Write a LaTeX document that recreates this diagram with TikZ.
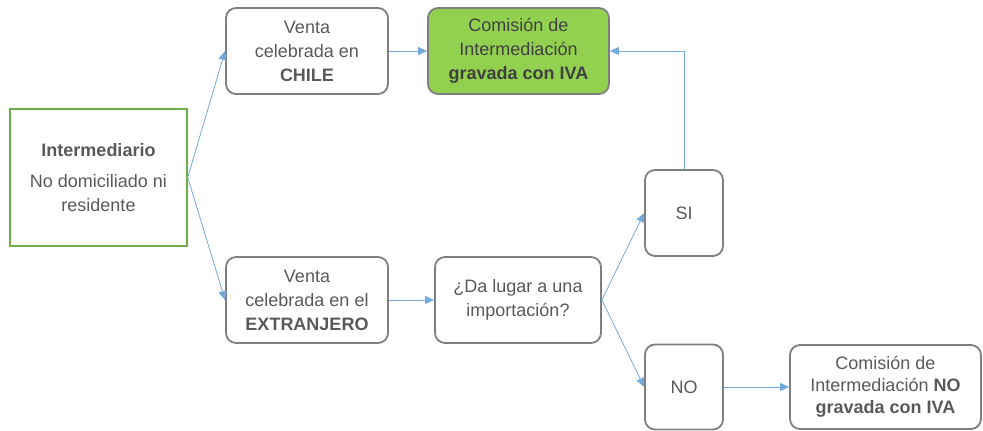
\documentclass[tikz,border=0pt]{standalone}
\usepackage{fontspec}
\setmainfont{Liberation Sans}
\usetikzlibrary{arrows.meta}

\definecolor{txtgray}{HTML}{595959}
\definecolor{boxgray}{HTML}{7F7F7F}
\definecolor{leafgreen}{HTML}{92D050}
\definecolor{edgegreen}{HTML}{70AD47}
\definecolor{flowblue}{HTML}{5B9BD5}

\begin{document}
\begin{tikzpicture}[x=1pt, y=-1pt]
    \tikzset{
        box/.style={draw=boxgray, line width=1.8pt, rounded corners=10pt,
            align=center, text=txtgray, inner sep=0pt,
            font=\fontsize{18}{24}\selectfont},
        start box/.style={box, draw=edgegreen, line width=1.4pt, rounded corners=0pt},
        taxed box/.style={box, fill=leafgreen, text=black!75},
        flow/.style={draw=flowblue!85, line width=0.8pt,
            -{Triangle[length=9pt, width=8pt]}},
    }
    \useasboundingbox (0, 0) rectangle (983, 431);

    \node[start box, minimum width=177pt, minimum height=137pt] (inter) at (98.5, 177.5)
        {\textbf{Intermediario}\\[7pt]No domiciliado ni\\residente};
    \node[box, minimum width=162pt, minimum height=86pt] (chile) at (307, 51)
        {Venta\\celebrada en\\\textbf{CHILE}};
    \node[taxed box, minimum width=181pt, minimum height=86pt] (taxed) at (518.5, 51)
        {Comisión de\\Intermediación\\\textbf{gravada con IVA}};
    \node[box, minimum width=162pt, minimum height=86pt] (abroad) at (307, 300)
        {Venta\\celebrada en el\\\textbf{EXTRANJERO}};
    \node[box, minimum width=166pt, minimum height=86pt] (import) at (518, 300)
        {¿Da lugar a una\\importación?};
    \node[box, minimum width=78pt, minimum height=86pt] (yes) at (684, 213) {SI};
    \node[box, minimum width=78pt, minimum height=85pt] (no) at (684, 387) {NO};
    \node[box, minimum width=191pt, minimum height=84pt, font=\fontsize{18}{22}\selectfont]
        (untaxed) at (885.5, 387)
        {Comisión de\\Intermediación \textbf{NO}\\\textbf{gravada con IVA}};

    % connectors
    \draw[flow] (inter.east) -- (chile.west);
    \draw[flow] (inter.east) -- (abroad.west);
    \draw[flow] (chile) -- (taxed);
    \draw[flow] (abroad) -- (import);
    \draw[flow] (import.east) -- (yes.west);
    \draw[flow] (import.east) -- (no.west);
    \draw[flow] (yes.north) |- (taxed.east);
    \draw[flow] (no) -- (untaxed);
\end{tikzpicture}
\end{document}
